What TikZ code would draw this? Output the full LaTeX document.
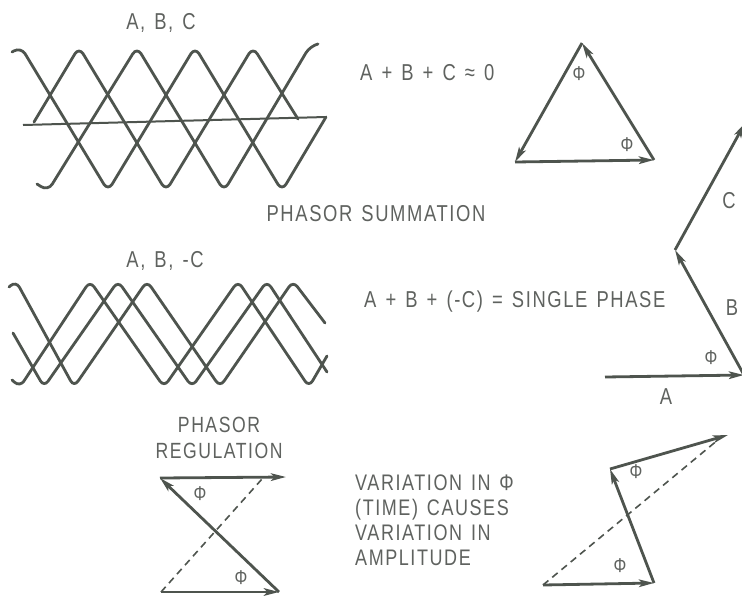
\documentclass[tikz,border=0pt]{standalone}
\usepackage{fontspec}
\setmainfont{Liberation Sans}[FakeStretch=0.8,LetterSpace=7,WordSpace=1.35]
\usetikzlibrary{arrows.meta}
\definecolor{ink}{RGB}{78,84,78}
\definecolor{txt}{RGB}{95,98,95}
\begin{document}
\begin{tikzpicture}[x=1pt,y=-1pt,
  wave/.style={draw=ink,line width=2.8pt,rounded corners=8pt,line cap=round},
  wavetwo/.style={draw=ink,line width=2.8pt,rounded corners=7pt,line cap=round},
  baseline line/.style={draw=ink,line width=2pt},
  vec/.style={draw=ink,line width=2.8pt,-{Stealth[length=15pt,width=7.5pt,inset=3.5pt]}},
  dash line/.style={draw=ink,line width=1.6pt,dash pattern=on 7pt off 5pt},
  lbl/.style={text=txt,font=\fontsize{23}{26}\selectfont,inner sep=0pt},
  phi/.style={text=txt,font=\fontsize{20}{22}\selectfont,inner sep=0pt}]
\useasboundingbox (0,0) rectangle (742,595);
\clip (0,0) rectangle (742,595);
\fill[white] (0,0) rectangle (742,595);

% ---------- top waveform A, B, C ----------
\node[lbl] (abc) at (161,23) {A, B, C};
\draw[wave] (12,52) -- (21,47) -- (108,191) -- (195,47) -- (282,191) -- (326,117);
\draw[baseline line] (326,117) -- (23,125);
\draw[wave] (34,122) -- (79,47) -- (166,191) -- (253,47) -- (298,119);
\draw[wave] (37,184) -- (48,191) -- (137,47) -- (224,191) -- (310,46) -- (318,44);

% ---------- second waveform A, B, -C ----------
\node[lbl] (abmc) at (165,261) {A, B, -C};
\draw[wavetwo] (12,380) -- (20,387) -- (90,281) -- (164,387) -- (238,281) -- (309,387) -- (327,356);
\draw[wavetwo] (13,333) -- (44,387) -- (118,281) -- (192,387) -- (267,281) -- (327,372);
\draw[wavetwo] (9,287) -- (16,281) -- (74,387) -- (147,281) -- (220,387) -- (293,281) -- (325,323);

% ---------- texts ----------
\node[lbl,anchor=west] (sum0) at (360,73) {A + B + C ≈ 0};
\node[lbl] (psum) at (376,214) {PHASOR SUMMATION};
\node[lbl,anchor=west] (single) at (364,302) {A + B + (-C) = SINGLE PHASE};
\node[lbl,align=center,font=\fontsize{22}{26}\selectfont] (preg) at (219,438) {PHASOR\\REGULATION};
\node[lbl,align=left,anchor=west,font=\fontsize{22.5}{25}\selectfont] (var) at (355,520)
  {VARIATION IN Φ\\(TIME) CAUSES\\VARIATION IN\\AMPLITUDE};

% ---------- triangle A+B+C=0 ----------
\coordinate (tT) at (582,43);
\coordinate (tL) at (515,162);
\coordinate (tR) at (654,160);
\draw[vec] (tT) -- (tL);
\draw[vec] (tL) -- (tR);
\draw[vec] (tR) -- (tT);
\node[phi] (tphi1) at (579,74) {Φ};
\node[phi] (tphi2) at (627,145) {Φ};

% ---------- single phase ----------
\coordinate (sA) at (605,377);
\coordinate (sV) at (744,375);
\coordinate (sW) at (675,250);
\coordinate (sC) at (745,123);
\draw[vec] (sA) -- (sV);
\draw[vec] (sV) -- (sW);
\draw[vec] (sW) -- (sC);
\node[lbl] (lC) at (729,201) {C};
\node[lbl] (lB) at (732,308) {B};
\node[lbl] (lA) at (666,397) {A};
\node[phi] (sphi) at (711,358) {Φ};

% ---------- phasor regulation bow tie ----------
\coordinate (rTL) at (160,478);
\coordinate (rTR) at (286,477);
\coordinate (rBL) at (161,592);
\coordinate (rBR) at (279,592);
\coordinate (rD) at (262,479);
\draw[vec] (rTL) -- (rTR);
\draw[vec] (rBR) -- (rTL);
\draw[vec] (rBL) -- (rBR);
\draw[dash line] (rBL) -- (rD);
\node[phi] (rphi1) at (200,494) {Φ};
\node[phi] (rphi2) at (241,578) {Φ};

% ---------- variation diagram ----------
\coordinate (v0) at (543,585);
\coordinate (v1) at (654,583);
\coordinate (v2) at (610,469);
\coordinate (v3) at (728,435);
\coordinate (vD) at (719,439);
\draw[vec] (v0) -- (v1);
\draw[vec] (v1) -- (v2);
\draw[vec] (v2) -- (v3);
\draw[dash line] (v0) -- (vD);
\node[phi] (vphi1) at (636,472) {Φ};
\node[phi] (vphi2) at (620,566) {Φ};
\end{tikzpicture}
\end{document}
